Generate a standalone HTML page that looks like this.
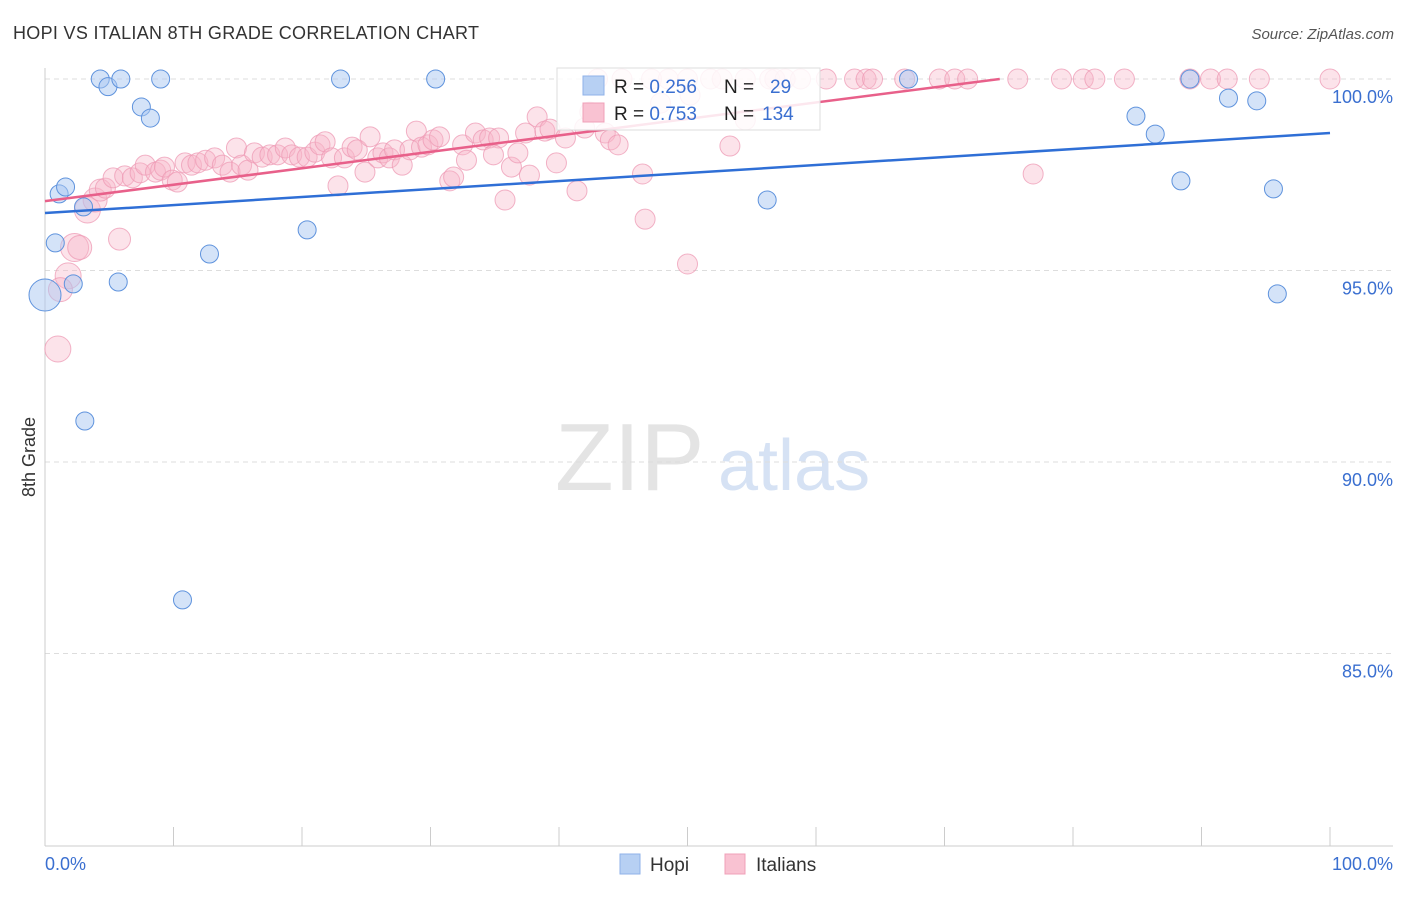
<!DOCTYPE html>
<html><head><meta charset="utf-8"><style>
body{margin:0;background:#fff;font-family:"Liberation Sans",sans-serif;}
svg text{font-family:"Liberation Sans",sans-serif;}
</style></head><body>
<svg id="chart" width="1406" height="892" viewBox="0 0 1406 892" xmlns="http://www.w3.org/2000/svg">
<text x="13" y="39" font-size="18" fill="#333" textLength="466">HOPI VS ITALIAN 8TH GRADE CORRELATION CHART</text>
<text x="1394" y="39" font-size="15" fill="#555" font-style="italic" text-anchor="end">Source: ZipAtlas.com</text>
<g>
<text x="555" y="490" font-size="96" fill="#e4e4e4" font-family="Liberation Serif,serif">ZIP</text>
<text x="718" y="490" font-size="72" fill="#d6e2f4">atlas</text>
</g>
<g id="grid"></g>
<line x1="45" y1="68" x2="45" y2="846" stroke="#ccc"/>
<line x1="45" y1="846" x2="1393" y2="846" stroke="#ccc"/>
<text x="35" y="457" font-size="18" fill="#333" transform="rotate(-90 35 457)" text-anchor="middle">8th Grade</text>
<text x="45" y="870" font-size="18" fill="#3a6fd0">0.0%</text>
<text x="1393" y="870" font-size="18" fill="#3a6fd0" text-anchor="end">100.0%</text>
<g id="ticks"></g>
<g id="pink"></g>
<g id="blue"></g>
<g id="trends"></g>
<g>
<rect x="557" y="68" width="263" height="62" fill="#fff" fill-opacity="0.85" stroke="#ddd"/>
<rect x="583" y="76" width="21" height="19" fill="#b7d0f3" stroke="#8fb2e8"/>
<rect x="583" y="103" width="21" height="19" fill="#f9c2d2" stroke="#f0a0b8"/>
<text x="614" y="93" font-size="19" fill="#222">R = <tspan fill="#3a6fd0">0.256</tspan><tspan x="724">N =</tspan><tspan x="770" fill="#3a6fd0">29</tspan></text>
<text x="614" y="120" font-size="19" fill="#222">R = <tspan fill="#3a6fd0">0.753</tspan><tspan x="724">N =</tspan><tspan x="762" fill="#3a6fd0">134</tspan></text>
</g>
<g>
<rect x="620" y="854" width="20" height="20" fill="#b7d0f3" stroke="#8fb2e8"/>
<text x="650" y="871" font-size="19" fill="#333">Hopi</text>
<rect x="725" y="854" width="20" height="20" fill="#f9c2d2" stroke="#f0a0b8"/>
<text x="756" y="871" font-size="19" fill="#333">Italians</text>
</g>
</svg>
<script>
const yTicks=[100,95,90,85];
const yTickLabels=["100.0%","95.0%","90.0%","85.0%"];
const xTickVals=[0,10,20,30,40,50,60,70,80,90,100];
const hopiX=[4.3,4.9,5.9,9.0,7.5,8.2,1.1,1.6,3.0,0.8,2.2,5.7,0,12.8,20.4,3.1,10.7,23.0,30.4,56.2,67.2,89.1,84.9,86.4,88.4,92.1,94.3,95.6,95.9];
const hopiY=[100,99.8,100,100,99.27,98.98,97.0,97.18,96.66,95.72,94.65,94.7,94.36,95.43,96.06,91.07,86.4,100,100,96.84,100,100,99.03,98.56,97.34,99.5,99.43,97.13,94.39];
const hopiR=[9,9,9,9,9,9,9,9,9,9,9,9,16,9,9,9,9,9,9,9,9,9,9,9,9,9,9,9,9];
const itaX=[43.0,44.9,47.2,48.5,50.0,51.8,52.7,54.5,56.4,56.8,57.6,58.8,60.8,63.0,63.9,64.4,66.9,69.6,70.8,71.8,75.7,79.1,80.8,81.7,84.0,89.1,90.7,92.0,94.5,100,
1.0,1.8,1.2,2.3,2.7,3.3,3.9,4.3,4.7,5.8,5.3,6.2,6.8,7.4,7.8,8.6,9.0,9.3,9.9,10.3,10.9,11.4,11.9,12.5,13.2,13.8,14.4,14.9,15.3,15.8,16.3,16.9,17.5,18.1,18.7,19.2,19.8,20.4,21.0,21.4,21.8,22.3,22.8,23.3,23.9,24.3,24.9,25.3,25.9,26.3,26.8,27.2,27.8,28.4,28.9,29.3,29.8,30.2,30.7,31.5,31.8,32.5,32.8,33.5,34.1,34.6,35.3,34.9,35.8,36.3,36.8,37.4,37.7,38.3,38.9,39.3,39.8,40.5,41.4,42.0,42.4,43.6,44.0,44.6,46.5,46.7,47.9,50.0,50.2,53.3,54.5,76.9];
const itaY=[100,100,100,100,100,100,100,100,100,100,100,100,100,100,100,100,100,100,100,100,100,100,100,100,100,100,100,100,100,100,
92.95,94.86,94.5,95.6,95.6,96.58,96.84,97.1,97.15,95.82,97.42,97.47,97.42,97.55,97.75,97.57,97.62,97.7,97.36,97.31,97.81,97.75,97.81,97.88,97.94,97.75,97.57,98.2,97.75,97.62,98.07,97.96,98.02,98.02,98.2,98.02,97.96,97.96,98.09,98.28,98.36,97.94,97.21,97.94,98.22,98.15,97.57,98.49,97.94,98.07,97.94,98.15,97.75,98.15,98.64,98.22,98.28,98.41,98.49,97.34,97.44,98.28,97.88,98.59,98.41,98.46,98.46,98.02,96.84,97.7,98.07,98.59,97.49,99.01,98.64,98.69,97.81,98.46,97.08,98.72,99.14,98.59,98.41,98.28,97.52,96.34,99.37,95.17,99.58,98.25,98.93,97.52];
const itaBig={30:13,31:13,32:12,33:14,34:12,35:13,36:12,37:11,39:11};
const hopiTrend=[96.5,98.59];
const itaTrend=[96.81,100,74.3];
const X=v=>45+v*12.85, Y=v=>79+(100-v)*38.3;
const NS="http://www.w3.org/2000/svg";
function mk(tag,attrs,parent){const e=document.createElementNS(NS,tag);for(const k in attrs)e.setAttribute(k,attrs[k]);parent.appendChild(e);return e;}
const grid=document.getElementById('grid');
yTicks.forEach((t,i)=>{
 const l=mk('line',{x1:45,x2:1393,y1:Y(t),y2:Y(t),stroke:'#ddd','stroke-dasharray':'5,4'},grid);
 
 
 const tx=mk('text',{x:1393,y:Y(t)+24,'font-size':18,fill:'#3a6fd0','text-anchor':'end'},grid);
 tx.textContent=yTickLabels[i];
 
 
});
const tk=document.getElementById('ticks');
xTickVals.forEach(v=>{
 const l=mk('line',{x1:X(v),x2:X(v),y1:827,y2:846,stroke:'#ccc'},tk);
 
 
});
const pg=document.getElementById('pink');
itaX.forEach((x,i)=>{
 const c=mk('circle',{cx:X(x),cy:Y(itaY[i]),r:itaBig[i]||10,fill:'#f7b6c9','fill-opacity':0.38,stroke:'#ee9ab4','stroke-opacity':0.75,'stroke-width':1},pg);
 
 
});
const bg=document.getElementById('blue');
hopiX.forEach((x,i)=>{
 const c=mk('circle',{cx:X(x),cy:Y(hopiY[i]),r:hopiR[i],fill:'#a9c8f2','fill-opacity':0.5,stroke:'#5f93dd','stroke-width':1},bg);
 
 
});
const tr=document.getElementById('trends');
const t1=mk('line',{x1:X(0),y1:Y(hopiTrend[0]),x2:X(100),y2:Y(hopiTrend[1]),stroke:'#2f6fd6','stroke-width':2.5},tr);


const t2=mk('line',{x1:X(0),y1:Y(itaTrend[0]),x2:X(itaTrend[2]),y2:Y(itaTrend[1]),stroke:'#e8608a','stroke-width':2.5},tr);


</script>
</body></html>
